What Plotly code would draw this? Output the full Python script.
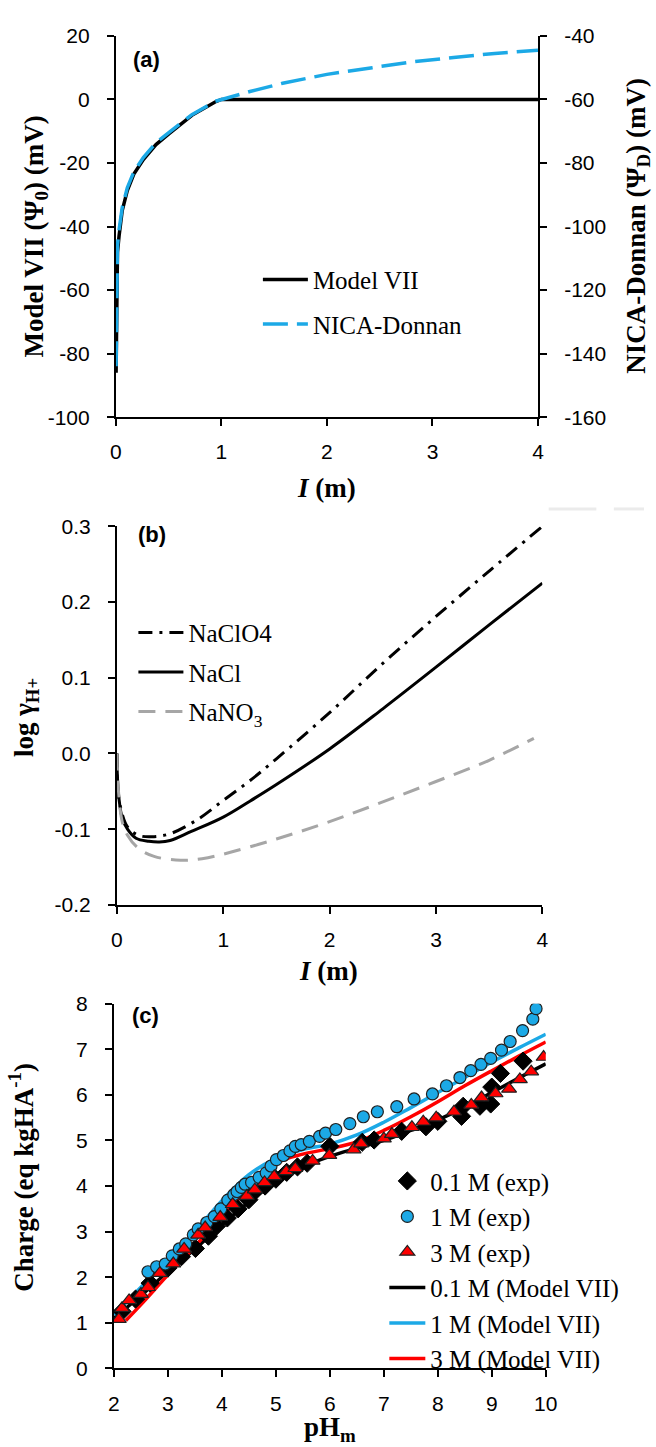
import plotly.graph_objects as go

# ---------------- DATA ----------------
# Panel (a): potential vs ionic strength
I_model7 = [0.002, 0.005, 0.01, 0.015, 0.03, 0.06, 0.108, 0.17, 0.26, 0.38, 0.51, 0.72, 0.94, 1.0, 1.5, 2.0, 2.5, 3.0, 3.5, 4.0]
psi0_model7 = [-86, -75, -58, -48, -43, -35, -28.7, -23.5, -18.9, -14.2, -10.6, -5.0, -0.8, 0, 0, 0, 0, 0, 0, 0]
I_nica = [0.002, 0.005, 0.01, 0.015, 0.03, 0.06, 0.108, 0.17, 0.26, 0.38, 0.51, 0.72, 0.94, 1.0, 1.27, 1.58, 2.0, 2.43, 2.82, 3.2, 3.59, 4.0]
psiD_nica = [-144, -132, -116, -106, -101, -94, -87.8, -82.8, -78.3, -73.6, -70.2, -64.8, -60.6, -60, -57.5, -54.9, -52.1, -50, -48.1, -46.8, -45.5, -44.5]

# Panel (b): log gamma H+ vs ionic strength
I_naclo4 = [0, 0.01, 0.05, 0.1, 0.2, 0.33, 0.5, 0.75, 1.0, 1.25, 1.5, 2.0, 2.5, 3.0, 3.5, 4.0]
lg_naclo4 = [0.0, -0.05, -0.08, -0.097, -0.108, -0.110, -0.106, -0.088, -0.062, -0.036, -0.007, 0.054, 0.119, 0.181, 0.241, 0.30]
I_nacl = [0, 0.005, 0.02, 0.05, 0.1, 0.18, 0.3, 0.4, 0.5, 0.7, 1.0, 1.25, 1.5, 2.0, 2.5, 3.0, 3.5, 4.0]
lg_nacl = [0.0, -0.03, -0.06, -0.085, -0.1, -0.112, -0.116, -0.117, -0.115, -0.103, -0.084, -0.063, -0.041, 0.006, 0.059, 0.114, 0.17, 0.225]
I_nano3 = [0, 0.01, 0.05, 0.1, 0.2, 0.35, 0.6, 0.8, 1.0, 1.5, 2.0, 2.5, 3.0, 3.5, 3.92]
lg_nano3 = [0.0, -0.04, -0.09, -0.108, -0.125, -0.136, -0.141, -0.139, -0.133, -0.113, -0.09, -0.064, -0.037, -0.009, 0.02]

# Panel (c): charge vs pHm
ph_exp01 = [2.15, 2.4, 2.67, 3.0, 3.25, 3.51, 3.75, 3.9, 4.1, 4.3, 4.5, 4.61, 4.8, 5.0, 5.2, 5.4, 5.58, 6.0, 6.6, 6.82, 7.33, 7.78, 8.0, 8.44, 8.47, 8.78, 8.98, 9.0, 9.16, 9.58]
q_exp01 = [1.25, 1.52, 1.87, 2.2, 2.45, 2.63, 2.9, 3.12, 3.3, 3.5, 3.7, 3.88, 4.0, 4.15, 4.3, 4.42, 4.5, 4.87, 4.96, 5.01, 5.2, 5.3, 5.42, 5.53, 5.75, 5.75, 5.8, 6.17, 6.47, 6.74]
ph_exp1 = [2.63, 2.79, 2.95, 3.08, 3.21, 3.33, 3.47, 3.56, 3.72, 3.86, 3.98, 4.11, 4.22, 4.28, 4.36, 4.43, 4.55, 4.69, 4.82, 4.91, 5.01, 5.14, 5.26, 5.36, 5.47, 5.62, 5.81, 5.92, 6.11, 6.37, 6.62, 6.88, 7.24, 7.56, 7.9, 8.16, 8.41, 8.61, 8.8, 8.98, 9.18, 9.34, 9.57, 9.76, 9.82]
q_exp1 = [2.12, 2.23, 2.29, 2.47, 2.62, 2.73, 2.93, 3.06, 3.2, 3.33, 3.5, 3.69, 3.81, 3.88, 3.97, 4.04, 4.08, 4.19, 4.29, 4.44, 4.58, 4.67, 4.77, 4.87, 4.91, 4.98, 5.09, 5.16, 5.24, 5.37, 5.52, 5.63, 5.74, 5.91, 6.02, 6.2, 6.38, 6.53, 6.67, 6.8, 6.98, 7.17, 7.41, 7.66, 7.89]
ph_exp3 = [2.09, 2.15, 2.28, 2.5, 2.63, 2.85, 3.1, 3.3, 3.56, 3.69, 3.97, 4.2, 4.46, 4.61, 4.79, 4.97, 5.19, 5.36, 5.68, 5.99, 6.44, 6.58, 7.0, 7.15, 7.52, 7.73, 7.97, 8.3, 8.62, 8.81, 9.07, 9.32, 9.52, 9.73, 9.96]
q_exp3 = [1.08, 1.32, 1.49, 1.63, 1.78, 2.09, 2.3, 2.62, 2.93, 3.09, 3.32, 3.6, 3.78, 3.92, 4.08, 4.21, 4.32, 4.39, 4.55, 4.68, 4.8, 4.93, 5.04, 5.14, 5.29, 5.41, 5.5, 5.63, 5.78, 5.94, 6.03, 6.13, 6.34, 6.51, 6.83]
ph_model = [2.0, 2.5, 3.0, 3.5, 4.0, 4.5, 5.0, 5.5, 6.0, 6.5, 7.0, 7.5, 8.0, 8.5, 9.0, 9.5, 10.0]
q_mod01 = [1.1, 1.6, 2.12, 2.62, 3.15, 3.65, 4.1, 4.42, 4.65, 4.83, 5.0, 5.22, 5.45, 5.73, 6.05, 6.37, 6.68]
q_mod1 = [1.18, 1.78, 2.38, 3.0, 3.68, 4.25, 4.6, 4.8, 4.92, 5.12, 5.4, 5.72, 6.05, 6.38, 6.72, 7.03, 7.33]
ph_model3 = [2.22, 2.5, 3.0, 3.5, 4.0, 4.5, 5.0, 5.5, 6.0, 6.5, 7.0, 7.5, 8.0, 8.5, 9.0, 9.5, 10.0]
q_mod3 = [1.05, 1.4, 2.05, 2.68, 3.33, 3.95, 4.5, 4.7, 4.82, 4.97, 5.22, 5.52, 5.85, 6.2, 6.53, 6.85, 7.16]

# tick labels
a_left_ticks = [-100, -80, -60, -40, -20, 0, 20]
a_right_ticks = [-160, -140, -120, -100, -80, -60, -40]
I_ticks = [0, 1, 2, 3, 4]
b_ticks = [-0.2, -0.1, 0.0, 0.1, 0.2, 0.3]
b_ticklabels = ["-0.2", "-0.1", "0.0", "0.1", "0.2", "0.3"]
c_yticks = [0, 1, 2, 3, 4, 5, 6, 7, 8]
c_xticks = [2, 3, 4, 5, 6, 7, 8, 9, 10]

# ---------------- LAYOUT HELPERS ----------------
W, H = 656, 1447
def fx(p):
    return p / W
def fy(p):
    return 1 - p / H

SANS = "Liberation Sans, Arial, sans-serif"
SERIF = "Liberation Serif, Times New Roman, serif"
BLUE = "#1CA9E6"
tickfont = dict(family=SANS, size=21, color="black")
common = dict(showgrid=False, zeroline=False, showline=True, linecolor="black", linewidth=2,
              ticks="outside", ticklen=7, tickwidth=2, tickcolor="black", tickfont=tickfont,
              fixedrange=True, mirror=False)
xcommon = dict(common, ticklabelstandoff=8)
ycommon = dict(common, ticklabelstandoff=13)

fig = go.Figure()

# ---- panel (a)
fig.add_trace(go.Scatter(x=I_model7, y=psi0_model7, mode="lines", name="Model VII",
                         line=dict(color="black", width=3.5), xaxis="x", yaxis="y",
                         legend="legend", legendgroup="a1"))
fig.add_trace(go.Scatter(x=I_nica, y=psiD_nica, mode="lines", name="NICA-Donnan",
                         line=dict(color=BLUE, width=3.5, dash="25px,9px"), xaxis="x", yaxis="y2",
                         legend="legend", legendgroup="a2"))

# ---- panel (b)
fig.add_trace(go.Scatter(x=I_naclo4, y=lg_naclo4, mode="lines", name="NaClO4",
                         line=dict(color="black", width=3, dash="14px,7px,3px,7px", shape="spline"),
                         xaxis="x3", yaxis="y3", legend="legend2", legendgroup="b1"))
fig.add_trace(go.Scatter(x=I_nacl, y=lg_nacl, mode="lines", name="NaCl",
                         line=dict(color="black", width=3, shape="spline"),
                         xaxis="x3", yaxis="y3", legend="legend2", legendgroup="b2"))
fig.add_trace(go.Scatter(x=I_nano3, y=lg_nano3, mode="lines", name="NaNO<sub>3</sub>",
                         line=dict(color="#A6A6A6", width=3, dash="17px,10px", shape="spline"),
                         xaxis="x3", yaxis="y3", legend="legend2", legendgroup="b3"))

# ---- panel (c): model lines first, markers on top
fig.add_trace(go.Scatter(x=ph_model, y=q_mod01, mode="lines", name="0.1 M (Model VII)",
                         line=dict(color="black", width=3.5, shape="spline"),
                         xaxis="x4", yaxis="y4", legend="legend3", legendgroup="c4", legendrank=4))
fig.add_trace(go.Scatter(x=ph_model, y=q_mod1, mode="lines", name="1 M (Model VII)",
                         line=dict(color=BLUE, width=3.5, shape="spline"),
                         xaxis="x4", yaxis="y4", legend="legend3", legendgroup="c5", legendrank=5))
fig.add_trace(go.Scatter(x=ph_model3, y=q_mod3, mode="lines", name="3 M (Model VII)",
                         line=dict(color="#FF0000", width=3.5, shape="spline"),
                         xaxis="x4", yaxis="y4", legend="legend3", legendgroup="c6", legendrank=6))
fig.add_trace(go.Scatter(x=ph_exp01, y=q_exp01, mode="markers", name="0.1 M (exp)",
                         marker=dict(symbol="diamond", size=14, color="black", line=dict(color="black", width=1)),
                         xaxis="x4", yaxis="y4", legend="legend3", legendgroup="c1", legendrank=1))
fig.add_trace(go.Scatter(x=ph_exp1, y=q_exp1, mode="markers", name="1 M (exp)",
                         marker=dict(symbol="circle", size=12, color=BLUE, line=dict(color="#202020", width=1.2)),
                         xaxis="x4", yaxis="y4", legend="legend3", legendgroup="c2", legendrank=2))
fig.add_trace(go.Scatter(x=ph_exp3, y=q_exp3, mode="markers", name="3 M (exp)",
                         marker=dict(symbol="triangle-up", size=13, color="#FF0000", line=dict(color="#202020", width=1.2)),
                         xaxis="x4", yaxis="y4", legend="legend3", legendgroup="c3", legendrank=3))

legend_common = dict(xanchor="left", yanchor="middle", bgcolor="rgba(0,0,0,0)", borderwidth=0,
                     font=dict(family=SERIF, size=25, color="black"), traceorder="grouped",
                     itemclick=False, itemdoubleclick=False)

annotations = [
    # panel labels
    dict(text="<b>(a)</b>", x=fx(144), y=fy(48)),
    dict(text="<b>(b)</b>", x=fx(150), y=fy(531)),
    dict(text="<b>(c)</b>", x=fx(143), y=fy(1020)),
]
for a in annotations:
    a.update(xref="paper", yref="paper", showarrow=False, xanchor="center", yanchor="middle",
             font=dict(family=SANS, size=22, color="black"))

titles = [
    dict(text="<b>Model VII (Ψ<sub>0</sub>) (mV)</b>", x=fx(31), y=fy(228), textangle=-90),
    dict(text="<b>NICA-Donnan (Ψ<sub>D</sub>) (mV)</b>", x=fx(649), y=fy(217), textangle=-90),
    dict(text="<b><i>I</i> (m)</b>", x=fx(330), y=fy(484), textangle=0),
    dict(text="<b>log γ<sub>H+</sub></b>", x=fx(20), y=fy(717), textangle=-90),
    dict(text="<b><i>I</i> (m)</b>", x=fx(332), y=fy(974), textangle=0),
    dict(text="<b>Charge (eq kgHA<sup>-1</sup>)</b>", x=fx(16), y=fy(1184), textangle=-90),
    dict(text="<b>pH<sub>m</sub></b>", x=fx(333), y=fy(1440), textangle=0),
]
for t in titles:
    t.update(xref="paper", yref="paper", showarrow=False, xanchor="center", yanchor="middle",
             font=dict(family=SERIF, size=27, color="black"))
annotations += titles

fig.update_layout(
    width=W, height=H, margin=dict(l=0, r=0, t=0, b=0),
    paper_bgcolor="white", plot_bgcolor="white", showlegend=True,
    xaxis=dict(xcommon, domain=[fx(113), fx(547)], range=[0, 4], tickvals=I_ticks, anchor="y"),
    yaxis=dict(ycommon, domain=[fy(411.7), fy(24.3)], range=[-100, 20], tickvals=a_left_ticks,
               ticktext=[str(v) for v in a_left_ticks], anchor="x"),
    yaxis2=dict(ycommon, overlaying="y", side="right", range=[-160, -40], tickvals=a_right_ticks,
                ticktext=[str(v) for v in a_right_ticks], anchor="x"),
    xaxis3=dict(xcommon, domain=[fx(114), fx(551.5)], range=[0, 4], tickvals=I_ticks, anchor="y3"),
    yaxis3=dict(ycommon, domain=[fy(907.3), fy(522.7)], range=[-0.2, 0.3], tickvals=b_ticks,
                ticktext=b_ticklabels, anchor="x3"),
    xaxis4=dict(xcommon, domain=[fx(111), fx(555)], range=[2, 10], tickvals=c_xticks, anchor="y4"),
    yaxis4=dict(ycommon, domain=[fy(1378.3), fy(1007.7)], range=[0, 8], tickvals=c_yticks, anchor="x4"),
    legend=dict(legend_common, x=fx(259), y=fy(294.5), tracegroupgap=9, itemwidth=45),
    legend2=dict(legend_common, x=fx(131), y=fy(671), tracegroupgap=4, itemwidth=45),
    legend3=dict(legend_common, x=fx(389), y=fy(1278), tracegroupgap=0, itemwidth=36),
    annotations=annotations,
    shapes=[
        dict(type="line", xref="paper", yref="paper", x0=fx(558), x1=fx(607), y0=fy(505), y1=fy(505),
             line=dict(color="#EBEBEB", width=3)),
        dict(type="line", xref="paper", yref="paper", x0=fx(625), x1=fx(656), y0=fy(505), y1=fy(505),
             line=dict(color="#EBEBEB", width=3)),
    ],
)

fig.write_html("out.html")
